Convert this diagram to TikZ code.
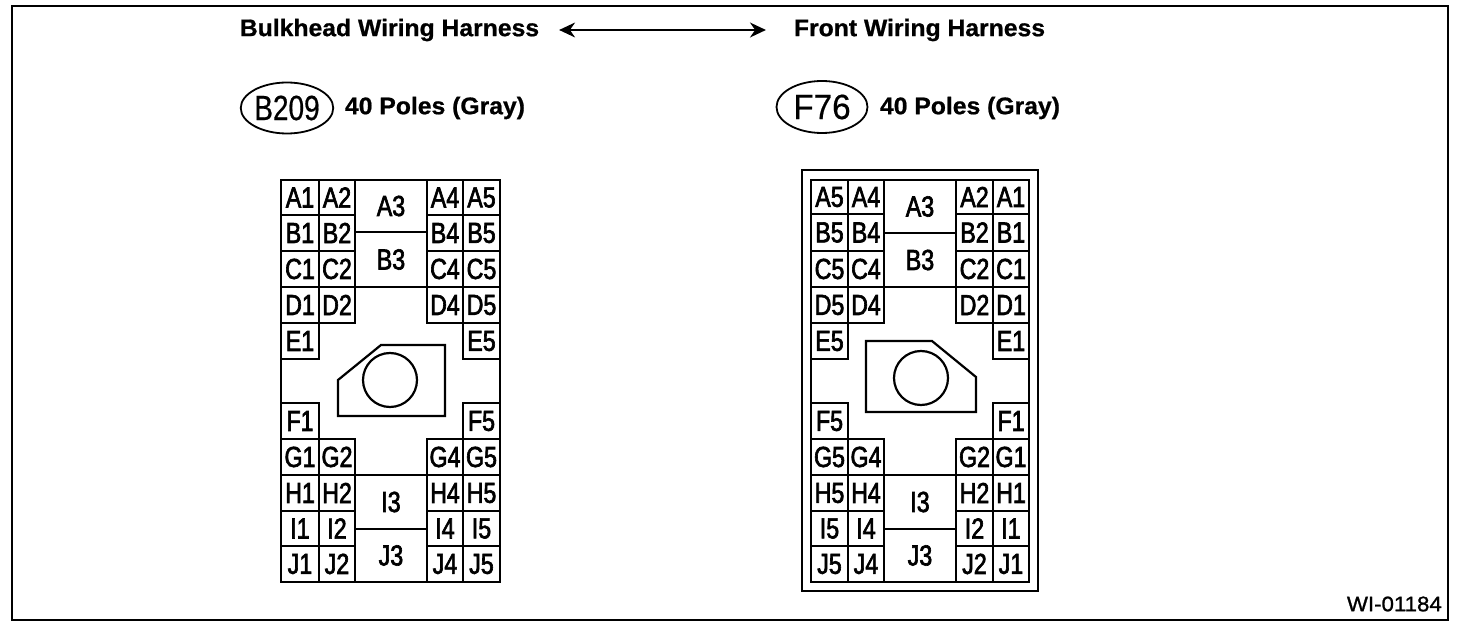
\documentclass[tikz,border=0pt]{standalone}
\usepackage{fontspec}
\usepackage{tikz}
\usetikzlibrary{shapes.geometric,arrows.meta}

\setmainfont{Liberation Sans}
\newfontfamily\headfont[FakeStretch=1.03,FakeBold=0.8]{Liberation Sans Bold}
\newfontfamily\pinfont[FakeStretch=0.8,FakeBold=2.2]{Liberation Sans}
\newfontfamily\tagfont[FakeStretch=0.8,FakeBold=0.5]{Liberation Sans}
\newfontfamily\tagwidefont[FakeStretch=0.95,FakeBold=0.5]{Liberation Sans}
\newfontfamily\codefont[FakeStretch=1.06,FakeBold=1.2]{Liberation Sans}

\tikzset{
    pinbox/.style={draw, line width=2.4pt, rectangle, anchor=north west, inner sep=0pt, outer sep=0pt, font=\pinfont\fontsize{29}{29}\selectfont},
    headtext/.style={inner sep=0pt, outer sep=0pt, font=\headfont\fontsize{24}{24}\selectfont},
    tagoval/.style={draw, line width=1.8pt, ellipse, inner sep=0pt, outer sep=0pt}
}

\begin{document}
\begin{tikzpicture}[x=1pt, y=-1pt, line join=miter]
        \useasboundingbox (0,0) rectangle (1472,636);

        % Draw the outer frame
        \draw[line width=2.4pt] (12,6) rectangle (1448,620);

        % Draw the harness titles and the arrow
        \node[headtext] (bulkhead) at (389.5,30) {Bulkhead Wiring Harness};
        \node[headtext] (front) at (919.5,30) {Front Wiring Harness};
        \draw[line width=1.5pt, {Stealth[length=16pt,width=15pt]}-{Stealth[length=16pt,width=15pt]}, shorten <=20pt, shorten >=28pt] (bulkhead.east) -- (front.west);

        % Draw the connector tags
        \node[tagoval, minimum width=91pt, minimum height=51pt] (tagB) at (287,108) {\tagfont\fontsize{35}{35}\selectfont B209};
        \node[headtext, anchor=west] (polesB) at (345,108) {40 Poles (Gray)};
        \node[tagoval, minimum width=91pt, minimum height=52pt] (tagF) at (822,107) {\tagwidefont\fontsize{35}{35}\selectfont F76};
        \node[headtext, anchor=west] (polesF) at (880,108) {40 Poles (Gray)};

        % Left connector outline
        \draw[line width=2.4pt] (281,180) rectangle (500,582);

        % Left connector pins
        \foreach \row/\ytop/\yh in {A/180/35, B/215/36, C/251/36, D/287/36, G/439/36, H/475/36, I/511/35, J/546/36}
            \foreach \pin/\xleft/\xw in {1/281/38, 2/319/36, 4/427/36, 5/463/37}
                \node[pinbox, minimum width=\xw, minimum height=\yh] (b\row\pin) at (\xleft,\ytop) {\row\pin};
        \node[pinbox, minimum width=38, minimum height=36] (bE1) at (281,323) {E1};
        \node[pinbox, minimum width=37, minimum height=36] (bE5) at (463,323) {E5};
        \node[pinbox, minimum width=38, minimum height=36] (bF1) at (281,403) {F1};
        \node[pinbox, minimum width=37, minimum height=36] (bF5) at (463,403) {F5};
        \node[pinbox, minimum width=72, minimum height=52] (bA3) at (355,180) {A3};
        \node[pinbox, minimum width=72, minimum height=55] (bB3) at (355,232) {B3};
        \node[pinbox, minimum width=72, minimum height=54] (bI3) at (355,475) {I3};
        \node[pinbox, minimum width=72, minimum height=53] (bJ3) at (355,529) {J3};

        % Left connector key
        \draw[line width=2.2pt] (381,345) -- (445,345) -- (445,416) -- (338,416) -- (338,380) -- cycle;
        \draw[line width=2.2pt] (390,380) circle (27);

        % Right connector outlines
        \draw[line width=2.4pt] (802,170) rectangle (1038,591);
        \draw[line width=2.4pt] (811,180) rectangle (1029,582);

        % Right connector pins
        \foreach \row/\ytop/\yh in {A/180/34, B/214/37, C/251/36, D/287/36, G/439/36, H/475/36, I/511/35, J/546/36}
            \foreach \pin/\xleft/\xw in {5/811/37, 4/848/36, 2/956/37, 1/993/36}
                \node[pinbox, minimum width=\xw, minimum height=\yh] (f\row\pin) at (\xleft,\ytop) {\row\pin};
        \node[pinbox, minimum width=37, minimum height=36] (fE5) at (811,323) {E5};
        \node[pinbox, minimum width=36, minimum height=36] (fE1) at (993,323) {E1};
        \node[pinbox, minimum width=37, minimum height=36] (fF5) at (811,403) {F5};
        \node[pinbox, minimum width=36, minimum height=36] (fF1) at (993,403) {F1};
        \node[pinbox, minimum width=72, minimum height=53] (fA3) at (884,180) {A3};
        \node[pinbox, minimum width=72, minimum height=54] (fB3) at (884,233) {B3};
        \node[pinbox, minimum width=72, minimum height=54] (fI3) at (884,475) {I3};
        \node[pinbox, minimum width=72, minimum height=53] (fJ3) at (884,529) {J3};

        % Right connector key
        \draw[line width=2.2pt] (866,341) -- (932,341) -- (976,377) -- (976,412) -- (866,412) -- cycle;
        \draw[line width=2.2pt] (921,378) circle (27);

        % Drawing number
        \node[inner sep=0pt, font=\codefont\fontsize{21}{21}\selectfont, anchor=east] (drawnum) at (1442,604) {WI-01184};
    \end{tikzpicture}
\end{document}
